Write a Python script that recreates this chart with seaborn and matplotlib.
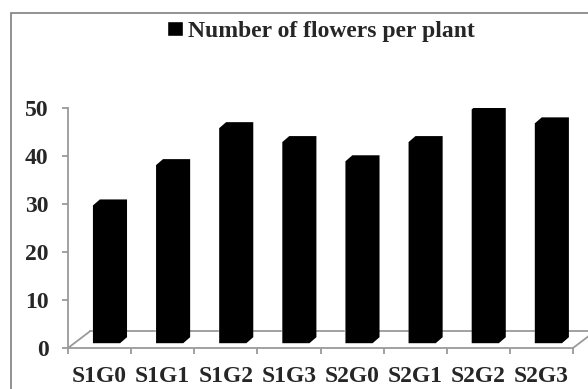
import numpy as np
import seaborn as sns
import matplotlib.pyplot as plt
from matplotlib.patches import Polygon, Rectangle


# Values
categories = ["S1G0", "S1G1", "S1G2", "S1G3", "S2G0", "S2G1", "S2G2", "S2G3"]
flowers = [28.7, 37.1, 44.8, 41.9, 37.9, 41.9, 48.7, 45.8]
y_ticks = [0, 10, 20, 30, 40, 50]
series_name = "Number of flowers per plant"

sns.set_style("white")
plt.rcParams["font.family"] = ["Liberation Serif", "DejaVu Serif"]
plt.rcParams["font.weight"] = "bold"

axis_grey = "#9a9a9a"

fig = plt.figure(figsize=(5.88, 3.89), dpi=100)
ax = fig.add_axes([68 / 588, 1 - 348 / 389, 505 / 588, 240 / 389])

sns.barplot(x=categories, y=flowers, color="black", saturation=1, width=0.43,
            ax=ax, label=series_name, legend=False)

# fake 3D look like the Excel column chart: lift bars onto the floor and add a depth edge
base = 1.0
shift = 0.11
dx, dy = 0.11, 1.25
for p in list(ax.patches):
    x0 = p.get_x() + shift
    w = p.get_width()
    h = p.get_height()
    p.set_x(x0)
    p.set_y(base)
    hexagon = [(x0, base), (x0, base + h), (x0 + dx, base + h + dy),
               (x0 + w + dx, base + h + dy), (x0 + w + dx, base + dy), (x0 + w, base)]
    ax.add_patch(Polygon(hexagon, closed=True, facecolor="black", edgecolor="none"))

# floor of the 3D plot
depth_x, depth_y = 0.35, 3.5
floor_kw = dict(color=axis_grey, lw=1.3, clip_on=False, zorder=0.5)
ax.plot([-0.5 + depth_x, 7.5 + depth_x], [depth_y, depth_y], **floor_kw)
ax.plot([-0.5, -0.5 + depth_x], [0, depth_y], **floor_kw)
ax.plot([7.5, 7.5 + depth_x], [0, depth_y], **floor_kw)

ax.set_xlim(-0.5, 7.5)
ax.set_ylim(0, 50)
ax.set_yticks(y_ticks)
ax.set_xticks(np.arange(len(categories)))
ax.set_xticklabels(categories)
ax.set_xticks(np.arange(-0.5, len(categories), 1), minor=True)
ax.set_xlabel("")
ax.set_ylabel("")

for side in ["top", "right"]:
    ax.spines[side].set_visible(False)
for side in ["left", "bottom"]:
    ax.spines[side].set_color(axis_grey)
    ax.spines[side].set_linewidth(1.3)

ax.tick_params(axis="y", length=4, width=1.3, color=axis_grey, pad=10,
               labelsize=17, left=True)
ax.tick_params(axis="x", which="major", length=0, pad=13, labelsize=17)
ax.tick_params(axis="x", which="minor", length=4, width=1.3, color=axis_grey,
               bottom=True)

# legend at the top, as in the reference
handle = Rectangle((0, 0), 1, 1, facecolor="black")
fig.legend([handle], [series_name], loc="center", bbox_to_anchor=(321 / 588, 1 - 31 / 389),
           frameon=False, fontsize=17, handlelength=0.7, handleheight=0.6,
           handletextpad=0.2)

# chart area border
fig.add_artist(Rectangle((11 / 588, -0.1), 1.2, 1 - 13 / 389 + 0.1, transform=fig.transFigure,
                         fill=False, edgecolor="#7f7f7f", lw=1.2))

fig.savefig("out.png", dpi=100)
